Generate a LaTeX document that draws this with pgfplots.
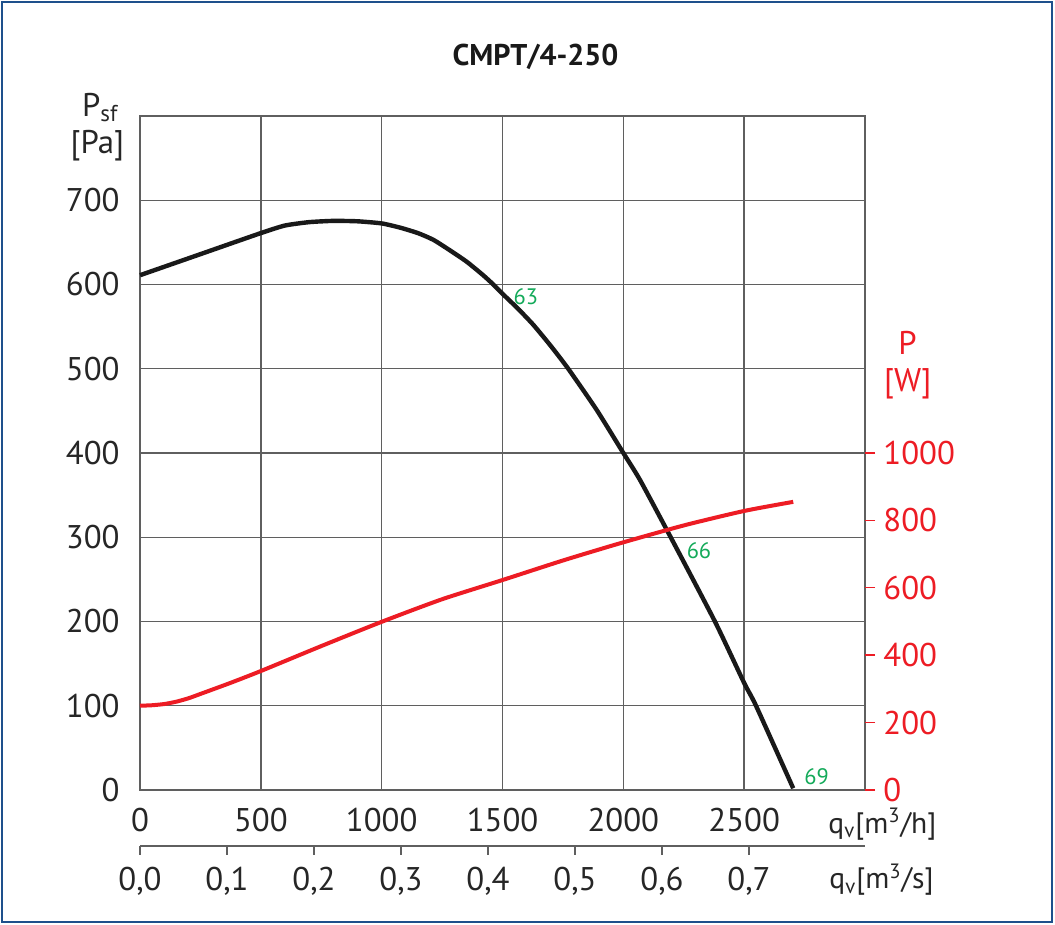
\documentclass[border=0pt]{standalone}
\usepackage{pgfplots}
\pgfplotsset{compat=1.18}
\usepackage{fontspec}
\setmainfont{PT Sans}
\definecolor{framec}{RGB}{30,80,140}
\definecolor{pred}{RGB}{237,28,36}
\definecolor{pgreen}{RGB}{20,170,90}
\definecolor{gridc}{RGB}{95,95,95}
\newcommand\tsz{\fontsize{16.4}{19}\selectfont}
\newcommand\qsz{\fontsize{14.8}{17}\selectfont}
\begin{document}
\begin{tikzpicture}
\useasboundingbox (0,0) rectangle (527.5pt,462.5pt);
\fill[white] (0,0) rectangle (527.5pt,462.5pt);
\draw[framec, line width=1.25pt] (1pt,1.5pt) rectangle (526pt,461.5pt);

\begin{axis}[at={(70pt,67.5pt)}, anchor=south west, scale only axis,
 width=362.5pt, height=337pt,
 xmin=0,xmax=3000,ymin=0,ymax=800,
 xtick={0,500,1000,1500,2000,2500,3000},
 xticklabels={0,500,1000,1500,2000,2500,{}},
 ytick={0,100,200,300,400,500,600,700,800},
 yticklabels={0,100,200,300,400,500,600,700,{}},
 grid=major, major grid style={gridc, line width=0.7pt},
 axis line style={gridc, line width=0.7pt},
 major tick length=0pt,
 tick label style={font=\tsz, text=black!85},
 xticklabel style={inner sep=0pt, anchor=north, yshift=-9pt},
 yticklabel style={inner sep=0pt, anchor=east, xshift=-10pt},
 /pgf/number format/assume math mode=true,
 clip=false]
\addplot[black!90, line width=2.2pt, line join=round, line cap=butt, smooth, tension=0.35] coordinates {
(0,611) (250,636) (500,661) (600,670) (700,674) (800,675.5) (900,675)
(1000,672.5) (1076,667.5) (1150,661) (1214,653) (1280,641) (1352,627)
(1420,611) (1462,600) (1500,589) (1565,571) (1628,552) (1700,527) (1772,500) (1890,451)
(2000,400) (2069,368) (2196,300) (2379,200) (2500,127) (2549,100) (2703,2)};
\node[pgreen, font=\fontsize{11.2}{13}\selectfont, inner sep=0pt] at (axis cs:1597,586) {63};
\node[pgreen, font=\fontsize{11.2}{13}\selectfont, inner sep=0pt] at (axis cs:2313,284) {66};
\node[pgreen, font=\fontsize{11.2}{13}\selectfont, inner sep=0pt] at (axis cs:2800,16) {69};
\end{axis}

\begin{axis}[at={(70pt,67.5pt)}, anchor=south west, scale only axis,
 width=362.5pt, height=337pt,
 xmin=0,xmax=3000,ymin=0,ymax=2000,
 axis x line=none, axis y line*=right, axis line style={draw=none},
 ytick={0,200,400,600,800,1000},
 yticklabels={0,200,400,600,800,1000},
 tick align=outside, major tick length=5pt,
 major tick style={pred, line width=0.7pt},
 yticklabel style={font=\tsz, text=pred, inner sep=0pt, anchor=west, xshift=4pt},
 clip=false]
\addplot[pred, line width=2pt, line join=round, smooth, tension=0.4] coordinates {
(0,250) (50,251.5) (100,255) (150,262) (200,272) (250,285) (375,318) (500,353) (750,427) (1000,499)
(1250,566) (1500,623) (1750,681) (1986,732) (2250,785) (2500,828) (2703,855)};
\end{axis}

\begin{axis}[at={(70pt,39.5pt)}, anchor=south west, scale only axis,
 width=362.5pt, height=10pt,
 xmin=0,xmax=0.833333,ymin=0,ymax=1,
 axis x line=bottom, axis y line=none,
 axis line style={-, gridc, line width=0.7pt},
 xtick={0,0.1,0.2,0.3,0.4,0.5,0.6,0.7},
 xticklabels={{0,0},{0,1},{0,2},{0,3},{0,4},{0,5},{0,6},{0,7}},
 tick align=outside, major tick length=4.5pt,
 major tick style={gridc, line width=0.7pt},
 xticklabel style={font=\tsz, text=black!85, inner sep=0pt, anchor=north, yshift=-6pt}]
\end{axis}

\node[anchor=base, inner sep=0pt, font=\fontsize{15}{18}\selectfont\bfseries, text=black!90] at (267.75pt,429.5pt) {CMPT/4-250};
\node[anchor=base west, inner sep=0pt, font=\tsz, text=black!85] at (40.8pt,404.2pt) {P\textsubscript{sf}};
\node[anchor=base, inner sep=0pt, font=\tsz, text=black!85] at (48.7pt,385.5pt) {[Pa]};
\node[anchor=base, inner sep=0pt, font=\tsz, text=pred] at (453.75pt,285.3pt) {P};
\node[anchor=base, inner sep=0pt, font=\tsz, text=pred] at (453.85pt,266.7pt) {[W]};
\node[anchor=base west, inner sep=0pt, font=\qsz, text=black!85] at (414pt,45.8pt) {q\textsubscript{v}[m\textsuperscript{3}/h]};
\node[anchor=base west, inner sep=0pt, font=\qsz, text=black!85] at (414.5pt,18pt) {q\textsubscript{v}[m\textsuperscript{3}/s]};
\end{tikzpicture}
\end{document}
